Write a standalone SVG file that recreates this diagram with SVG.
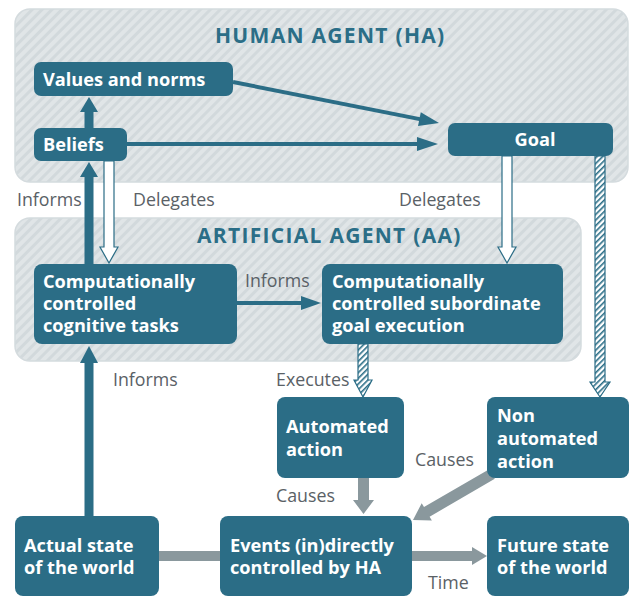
<svg xmlns="http://www.w3.org/2000/svg" width="629" height="597" viewBox="0 0 629 597">
<defs>
<pattern id="panelStripes" patternUnits="userSpaceOnUse" width="7" height="7" patternTransform="rotate(45)">
<rect width="7" height="7" fill="#e0e5e7"/>
<rect width="3" height="7" fill="#d2d9dc"/>
</pattern>
<pattern id="hatch" patternUnits="userSpaceOnUse" width="4" height="4" patternTransform="rotate(45)">
<rect width="4" height="4" fill="#ffffff"/>
<rect width="1.6" height="4" fill="#2b6e87"/>
</pattern>
<style>
.panel{fill:url(#panelStripes);stroke:#d4dbde;stroke-width:1.5}
.node{fill:#2b6d86}
.nt{font-family:"Open Sans","DejaVu Sans",sans-serif;font-weight:700;font-size:18.2px;fill:#ffffff}
.title{font-family:"Open Sans","DejaVu Sans",sans-serif;font-weight:700;font-size:21px;fill:#2b6e87;letter-spacing:1.3px}
.lbl{font-family:"Open Sans","DejaVu Sans",sans-serif;font-size:17.8px;fill:#5a6166}
.teal{fill:#2b6d86}
.thin{stroke:#2b6d86;stroke-width:4;fill:none}
.hollow{fill:#ffffff;stroke:#2b6d86;stroke-width:1.2}
.hatched{fill:url(#hatch);stroke:#2b6d86;stroke-width:1.2}
.gray{fill:#8a989d}
</style>
</defs>
<g id="panel-ha">
<rect class="panel" x="15" y="9" width="613" height="173" rx="15"/>
<text class="title" x="215" y="43">HUMAN AGENT (HA)</text>
</g>
<g id="panel-aa">
<rect class="panel" x="15" y="218" width="566" height="143" rx="15"/>
<text class="title" x="197" y="243">ARTIFICIAL AGENT (AA)</text>
</g>
<g id="connectors">
<rect class="teal" x="84.5" y="110" width="9" height="20"/>
<polygon class="teal" points="80,112 89,97 98,112"/>
<rect class="teal" x="84.5" y="175" width="9" height="91"/>
<polygon class="teal" points="80,177 89,162 98,177"/>
<rect class="teal" x="84.5" y="361" width="9" height="157"/>
<polygon class="teal" points="80,363 89,346 98,363"/>
<line class="thin" x1="233" y1="82" x2="421" y2="119.4"/>
<polygon class="teal" points="418,126 439,123 420.8,112.2"/>
<line class="thin" x1="127" y1="144" x2="419" y2="144"/>
<polygon class="teal" points="417,137 438,144 417,151"/>
<line class="thin" x1="237" y1="303" x2="303" y2="303"/>
<polygon class="teal" points="301,296 321,303 301,310"/>
<polygon class="hollow" points="104,161 114,161 114,247 118,247 109,263 100,247 104,247"/>
<polygon class="hollow" points="502,156 512,156 512,247 516,247 507,263 498,247 502,247"/>
<polygon class="hatched" points="595,156 605,156 605,382 610,382 600,397 590,382 595,382"/>
<polygon class="hatched" points="358,344 368,344 368,380 372,380 363,397 354,380 358,380"/>
<polygon class="gray" points="358,476 369,476 369,500 374,500 363.5,514 353,500 358,500"/>
<polygon class="gray" points="489.2,469.2 424,507.1 421.7,503.2 413,520 431.9,520.6 429.6,516.7 494.8,478.8"/>
<rect class="gray" x="157" y="551" width="65" height="10"/>
<rect class="gray" x="410" y="551" width="63" height="10"/>
<polygon class="gray" points="472,547 487,556 472,565"/>
</g>
<g id="labels">
<text class="lbl" x="17" y="206">Informs</text>
<text class="lbl" x="133" y="206">Delegates</text>
<text class="lbl" x="399" y="206">Delegates</text>
<text class="lbl" x="245" y="287">Informs</text>
<text class="lbl" x="113" y="386">Informs</text>
<text class="lbl" x="276" y="386">Executes</text>
<text class="lbl" x="276" y="502">Causes</text>
<text class="lbl" x="415" y="466">Causes</text>
<text class="lbl" x="428" y="589">Time</text>
</g>
<g id="node-values">
<rect class="node" x="34" y="62" width="199" height="34" rx="7"/>
<text class="nt" x="43" y="86">Values and norms</text>
</g>
<g id="node-beliefs">
<rect class="node" x="34" y="128" width="93" height="33" rx="7"/>
<text class="nt" x="43" y="151">Beliefs</text>
</g>
<g id="node-goal">
<rect class="node" x="448" y="123" width="165" height="33" rx="7"/>
<text class="nt" x="535" y="146" text-anchor="middle">Goal</text>
</g>
<g id="node-ccct">
<rect class="node" x="34" y="264" width="203" height="80" rx="8"/>
<text class="nt" x="43" y="288">Computationally</text>
<text class="nt" x="43" y="310">controlled</text>
<text class="nt" x="43" y="332">cognitive tasks</text>
</g>
<g id="node-ccsge">
<rect class="node" x="322" y="264" width="241" height="80" rx="8"/>
<text class="nt" x="332" y="288">Computationally</text>
<text class="nt" x="332" y="310">controlled subordinate</text>
<text class="nt" x="332" y="332">goal execution</text>
</g>
<g id="node-automated">
<rect class="node" x="277" y="397" width="127" height="81" rx="8"/>
<text class="nt" x="286" y="433">Automated</text>
<text class="nt" x="286" y="456">action</text>
</g>
<g id="node-nonautomated">
<rect class="node" x="487" y="397" width="142" height="81" rx="8"/>
<text class="nt" x="497" y="422">Non</text>
<text class="nt" x="497" y="445">automated</text>
<text class="nt" x="497" y="468">action</text>
</g>
<g id="node-actual">
<rect class="node" x="15" y="516" width="144" height="80" rx="8"/>
<text class="nt" x="24" y="552">Actual state</text>
<text class="nt" x="24" y="574">of the world</text>
</g>
<g id="node-events">
<rect class="node" x="220" y="516" width="192" height="80" rx="8"/>
<text class="nt" x="230" y="552">Events (in)directly</text>
<text class="nt" x="230" y="574">controlled by HA</text>
</g>
<g id="node-future">
<rect class="node" x="487" y="516" width="142" height="80" rx="8"/>
<text class="nt" x="497" y="552">Future state</text>
<text class="nt" x="497" y="574">of the world</text>
</g>
</svg>
